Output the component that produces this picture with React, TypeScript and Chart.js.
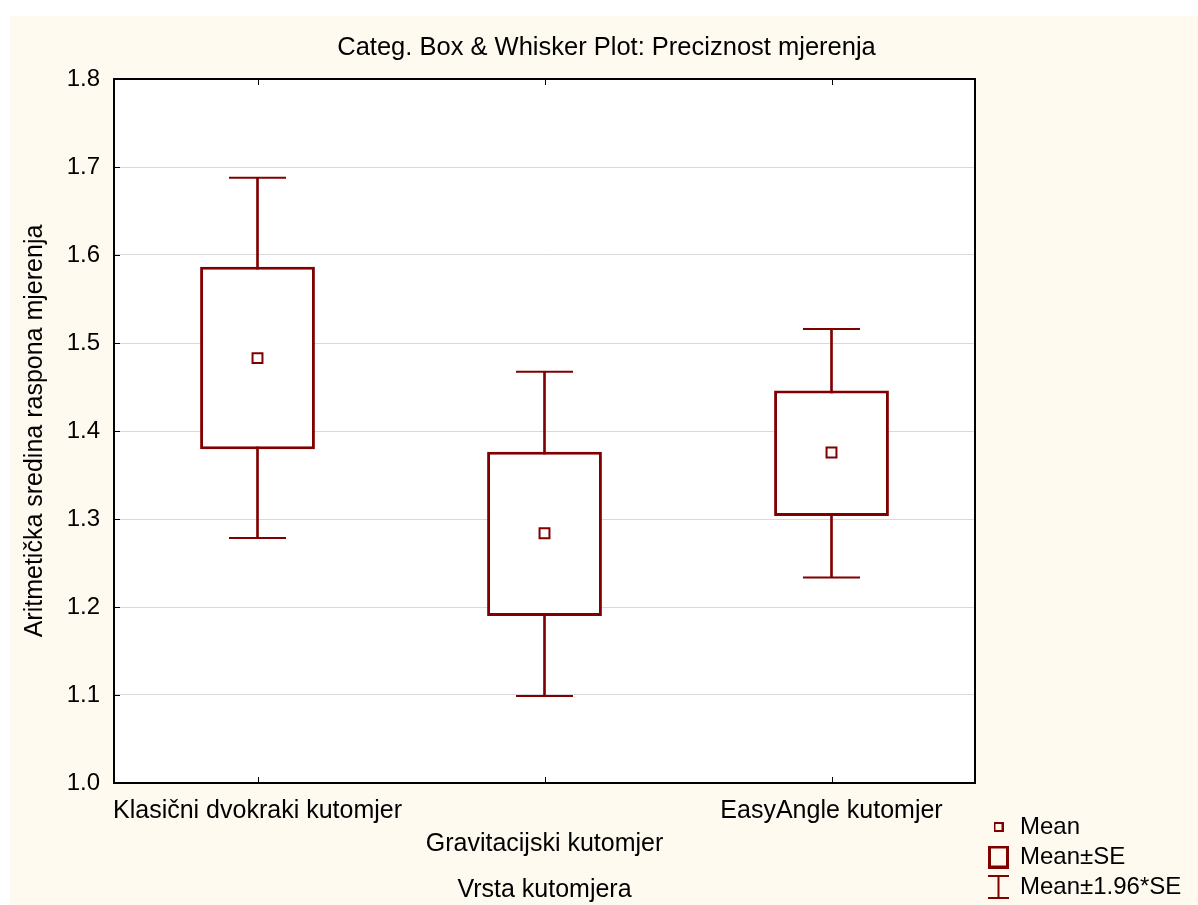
import React, { useEffect, useRef } from "react";
import { Chart, registerables } from "chart.js";

Chart.register(...registerables);

const categories = ["Klasični dvokraki kutomjer", "Gravitacijski kutomjer", "EasyAngle kutomjer"];
const meanValues = [1.4828, 1.2838, 1.3756];
const seLow = [1.3794, 1.1899, 1.3035];
const seHigh = [1.5866, 1.3763, 1.4461];
const ciLow = [1.2785, 1.0989, 1.2335];
const ciHigh = [1.6878, 1.4673, 1.5158];
const yTickLabels = ["1.0", "1.1", "1.2", "1.3", "1.4", "1.5", "1.6", "1.7", "1.8"];
const legendLabels = ["Mean", "Mean±SE", "Mean±1.96*SE"];

const RED = "#800000";
const FONT = "'Liberation Sans', Arial, sans-serif";

function makeIcon(w: number, h: number, draw: (c: CanvasRenderingContext2D) => void) {
  const cv = document.createElement("canvas");
  cv.width = w;
  cv.height = h;
  const c = cv.getContext("2d")!;
  c.strokeStyle = RED;
  draw(c);
  return cv;
}

const framePlugin = {
  id: "frame",
  beforeDraw(chart: any) {
    const { ctx, chartArea: a } = chart;
    ctx.save();
    ctx.fillStyle = "#ffffff";
    ctx.fillRect(a.left, a.top, a.right - a.left, a.bottom - a.top);
    ctx.restore();
  },
  afterDraw(chart: any) {
    const { ctx, chartArea: a } = chart;
    const xs = chart.scales.x;
    const ys = chart.scales.y;
    ctx.save();
    ctx.strokeStyle = "#000";
    ctx.lineWidth = 1;
    ctx.beginPath();
    ys.ticks.forEach((_: any, i: number) => {
      const py = Math.round(ys.getPixelForTick(i)) + 0.5;
      ctx.moveTo(a.left, py);
      ctx.lineTo(a.left + 6, py);
    });
    xs.ticks.forEach((_: any, i: number) => {
      const px = Math.round(xs.getPixelForTick(i)) + 0.5;
      ctx.moveTo(px, a.top);
      ctx.lineTo(px, a.top + 6);
      ctx.moveTo(px, a.bottom);
      ctx.lineTo(px, a.bottom - 6);
    });
    ctx.stroke();
    ctx.lineWidth = 2;
    ctx.strokeRect(a.left, a.top, a.right - a.left, a.bottom - a.top);
    ctx.restore();
  },
};

export default function App() {
  const ref = useRef<HTMLCanvasElement>(null);

  useEffect(() => {
    Chart.defaults.font.family = FONT;
    Chart.defaults.color = "#000";

    const iconMean = makeIcon(10, 10, (c) => {
      c.lineWidth = 2;
      c.strokeRect(1, 1, 8, 8);
    });
    const iconSE = makeIcon(21, 23, (c) => {
      c.lineWidth = 3;
      c.strokeRect(1.5, 1.5, 18, 20);
    });
    const iconCI = makeIcon(21, 24, (c) => {
      c.lineWidth = 2;
      c.beginPath();
      c.moveTo(0, 1);
      c.lineTo(21, 1);
      c.moveTo(0, 23);
      c.lineTo(21, 23);
      c.moveTo(10.5, 1);
      c.lineTo(10.5, 23);
      c.stroke();
    });
    const icons = [iconMean, iconSE, iconCI];

    const chart = new Chart(ref.current!, {
      type: "bar",
      data: {
        labels: categories,
        datasets: [
          {
            type: "bar",
            label: "whisker",
            data: categories.map((_, i) => [ciLow[i], ciHigh[i]]) as any,
            backgroundColor: RED,
            borderWidth: 0,
            barThickness: 2,
            grouped: false,
            order: 4,
          },
          {
            type: "bar",
            label: "box",
            data: categories.map((_, i) => [seLow[i], seHigh[i]]) as any,
            backgroundColor: "#ffffff",
            borderColor: RED,
            borderWidth: 3,
            borderSkipped: false,
            barPercentage: 0.4,
            categoryPercentage: 1,
            grouped: false,
            order: 3,
          },
          {
            type: "line",
            label: "capHigh",
            data: ciHigh,
            showLine: false,
            pointStyle: "line",
            pointRadius: 28.5,
            pointBorderWidth: 2,
            pointBorderColor: RED,
            borderColor: RED,
            order: 2,
          },
          {
            type: "line",
            label: "capLow",
            data: ciLow,
            showLine: false,
            pointStyle: "line",
            pointRadius: 28.5,
            pointBorderWidth: 2,
            pointBorderColor: RED,
            borderColor: RED,
            order: 2,
          },
          {
            type: "line",
            label: "mean",
            data: meanValues,
            showLine: false,
            pointStyle: "rect",
            pointRadius: 7,
            pointBorderWidth: 2,
            pointBorderColor: RED,
            pointBackgroundColor: "#ffffff",
            borderColor: RED,
            order: 1,
          },
        ] as any,
      },
      options: {
        responsive: false,
        animation: false,
        events: [],
        layout: { padding: { left: 20, top: 0, right: 15, bottom: 0 } },
        plugins: {
          tooltip: { enabled: false },
          title: {
            display: true,
            text: "Categ. Box & Whisker Plot: Preciznost mjerenja",
            color: "#000",
            font: { size: 25.5, weight: "normal", family: FONT },
            padding: { top: 17, bottom: 15.4 },
          },
          legend: {
            display: true,
            position: "right",
            align: "end",
            maxWidth: 200,
            labels: {
              usePointStyle: true,
              pointStyleWidth: 19,
              padding: 6,
              color: "#000",
              font: { size: 24, family: FONT },
              generateLabels: () =>
                legendLabels.map((t, i) => ({
                  text: t,
                  pointStyle: icons[i] as any,
                  fillStyle: "transparent",
                  strokeStyle: "transparent",
                  lineWidth: 0,
                  hidden: false,
                  datasetIndex: i,
                })),
            },
          },
        },
        scales: {
          x: {
            type: "category",
            offset: true,
            grid: { display: false, drawTicks: false },
            border: { display: false },
            ticks: {
              autoSkip: false,
              maxRotation: 0,
              minRotation: 0,
              padding: 11.5,
              color: "#000",
              font: { size: 25, lineHeight: 1.32, family: FONT },
              callback: (_v: any, i: number) => (i % 2 === 1 ? ["", categories[i]] : categories[i]),
            },
            title: {
              display: true,
              text: "Vrsta kutomjera",
              color: "#000",
              font: { size: 25, family: FONT },
              padding: { top: 0, bottom: 0 },
            },
            afterFit: (s: any) => {
              s.height = 122;
            },
          },
          y: {
            type: "linear",
            min: 1.0,
            max: 1.8,
            grid: { color: "#d9d9d9", lineWidth: 1, drawTicks: false },
            border: { display: false },
            ticks: {
              stepSize: 0.1,
              padding: 14,
              color: "#000",
              font: { size: 24, family: FONT },
              callback: (v: any) => {
                const idx = Math.round((Number(v) - 1.0) * 10);
                return yTickLabels[idx] ?? Number(v).toFixed(1);
              },
            },
            title: {
              display: true,
              text: "Aritmetička sredina raspona mjerenja",
              color: "#000",
              font: { size: 25, family: FONT },
              padding: { top: -10, bottom: 0 },
            },
            afterFit: (s: any) => {
              s.width = 84;
            },
          },
          y2: {
            type: "linear",
            position: "right",
            display: true,
            grid: { display: false, drawTicks: false },
            border: { display: false },
            ticks: { display: false },
            afterFit: (s: any) => {
              s.width = 8;
            },
          },
        },
      } as any,
      plugins: [framePlugin],
    });

    return () => chart.destroy();
  }, []);

  return (
    <div
      style={{
        position: "absolute",
        left: 10,
        top: 16,
        width: 1188,
        height: 889,
        background: "#FFFAF0",
      }}
    >
      <canvas ref={ref} width={1188} height={889} style={{ display: "block" }} />
    </div>
  );
}
